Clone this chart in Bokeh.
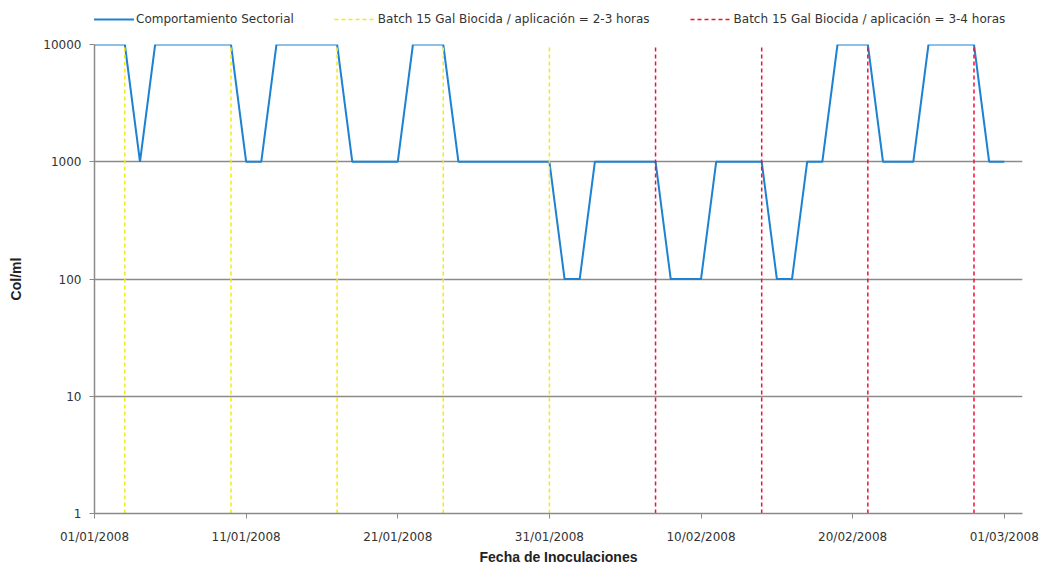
import pandas as pd
from bokeh.plotting import figure
from bokeh.layouts import column
from bokeh.models import (ColumnDataSource, Range1d, FixedTicker, DatetimeTickFormatter,
                          PrintfTickFormatter, Legend, LegendItem)
from bokeh.embed import file_html
from bokeh.resources import INLINE

# ---- data ----
start_date = "2008-01-01"
cfu_values = [10000, 10000, 10000, 1000, 10000, 10000, 10000, 10000, 10000, 10000,
              1000, 1000, 10000, 10000, 10000, 10000, 10000, 1000, 1000, 1000,
              1000, 10000, 10000, 10000, 1000, 1000, 1000, 1000, 1000, 1000,
              1000, 100, 100, 1000, 1000, 1000, 1000, 1000, 100, 100,
              100, 1000, 1000, 1000, 1000, 100, 100, 1000, 1000, 10000,
              10000, 10000, 1000, 1000, 1000, 10000, 10000, 10000, 10000, 1000,
              1000]
yellow_dates = ["2008-01-03", "2008-01-10", "2008-01-17", "2008-01-24", "2008-01-31"]
red_dates = ["2008-02-07", "2008-02-14", "2008-02-21", "2008-02-28"]
tick_dates = ["2008-01-01", "2008-01-11", "2008-01-21", "2008-01-31",
              "2008-02-10", "2008-02-20", "2008-03-01"]
y_ticks = [1, 10, 100, 1000, 10000]
labels = ["Comportamiento Sectorial",
          "Batch 15 Gal Biocida / aplicación = 2-3 horas",
          "Batch 15 Gal Biocida / aplicación = 3-4 horas"]

BLUE, YELLOW, RED = "#1E82D2", "#F5EA10", "#F21038"
DASH = "4 3"

dates = pd.date_range(start_date, periods=len(cfu_values))
line_src = ColumnDataSource(dict(x=dates, y=cfu_values))

yd = pd.to_datetime(yellow_dates)
rd = pd.to_datetime(red_dates)
ysrc = ColumnDataSource(dict(x=yd, y0=[1] * len(yd), y1=[10000] * len(yd)))
rsrc = ColumnDataSource(dict(x=rd, y0=[1] * len(rd), y1=[10000] * len(rd)))

x_start = pd.Timestamp("2008-01-01")
x_end = pd.Timestamp("2008-01-01") + pd.Timedelta(days=61.2)

W = 1040
LEG_H = 36
H = 567 - LEG_H
LEFT, RIGHT, TOP, BOTTOM = 94, 18, 8, 49

# ---- legend strip (its frame is aligned with the chart frame by the column) ----
lf = figure(width=W, height=LEG_H, output_backend="svg", toolbar_location=None,
            x_range=Range1d(0, 1), y_range=Range1d(0, 1),
            x_axis_location=None, y_axis_location=None,
            min_border_left=LEFT, min_border_right=RIGHT, min_border_top=0, min_border_bottom=0)
lf.outline_line_color = None
lf.xgrid.grid_line_color = None
lf.ygrid.grid_line_color = None
off = dict(x=[-5, -4], y=[-5, -5])  # keys outside the visible range: only the legend shows them
l1 = lf.line(x=off["x"], y=off["y"], line_color=BLUE, line_width=2)
l2 = lf.line(x=off["x"], y=off["y"], line_color=YELLOW, line_width=1.5, line_dash=DASH)
l3 = lf.line(x=off["x"], y=off["y"], line_color=RED, line_width=1.5, line_dash=DASH)
legend = Legend(items=[LegendItem(label=labels[0], renderers=[l1]),
                       LegendItem(label=labels[1], renderers=[l2]),
                       LegendItem(label=labels[2], renderers=[l3])],
                orientation="horizontal", location=(-2, 10))
legend.border_line_color = None
legend.background_fill_alpha = 0
legend.margin = 0
legend.padding = 2
legend.spacing = 40
legend.glyph_width = 42
legend.glyph_height = 14
legend.label_height = 14
legend.label_standoff = 2
legend.label_text_font = "DejaVu Sans"
legend.label_text_font_size = "12px"
legend.label_text_color = "#333333"
lf.add_layout(legend, "center")

# ---- main chart ----
p = figure(width=W, height=H, output_backend="svg", toolbar_location=None,
           x_axis_type="datetime", y_axis_type="log",
           x_range=Range1d(x_start, x_end), y_range=Range1d(1, 10000),
           min_border_left=LEFT, min_border_right=RIGHT, min_border_top=TOP,
           min_border_bottom=BOTTOM)
p.outline_line_color = None
p.background_fill_color = "white"

p.line("x", "y", source=line_src, line_color=BLUE, line_width=2)
p.segment(x0="x", y0="y0", x1="x", y1="y1", source=ysrc,
          line_color=YELLOW, line_width=1.5, line_dash=DASH)
p.segment(x0="x", y0="y0", x1="x", y1="y1", source=rsrc,
          line_color=RED, line_width=1.5, line_dash=DASH)

tick_ms = [pd.Timestamp(d).value // 10**6 for d in tick_dates]
p.xaxis.ticker = FixedTicker(ticks=tick_ms)
fmt = "%d/%m/%Y"
p.xaxis.formatter = DatetimeTickFormatter(milliseconds=fmt, seconds=fmt, minsec=fmt, minutes=fmt,
                                          hourmin=fmt, hours=fmt, days=fmt, months=fmt, years=fmt)
p.yaxis.ticker = FixedTicker(ticks=y_ticks)
p.yaxis.formatter = PrintfTickFormatter(format="%d")

for ax in (p.xaxis, p.yaxis):
    ax.axis_line_color = "#8A8A8A"
    ax.axis_line_width = 1.5
    ax.major_tick_line_color = "#8A8A8A"
    ax.major_tick_out = 5
    ax.major_tick_in = 0
    ax.minor_tick_line_color = None
    ax.major_label_text_font = "DejaVu Sans"
    ax.major_label_text_font_size = "12px"
    ax.major_label_text_color = "#333333"
    ax.axis_label_text_font = "Liberation Sans"
    ax.axis_label_text_font_style = "bold"
    ax.axis_label_text_font_size = "14px"
    ax.axis_label_text_color = "#222222"

p.xaxis.axis_label = "Fecha de Inoculaciones"
p.yaxis.axis_label = "Col/ml"
p.xaxis.major_label_standoff = 11
p.xaxis.axis_label_standoff = 2
p.yaxis.major_label_standoff = 8
p.yaxis.axis_label_standoff = 16

p.xgrid.grid_line_color = None
p.ygrid.grid_line_color = "#8A8A8A"
p.ygrid.grid_line_width = 1.3

layout = column(lf, p, spacing=0)
open("out.html", "w").write(file_html(layout, INLINE))
